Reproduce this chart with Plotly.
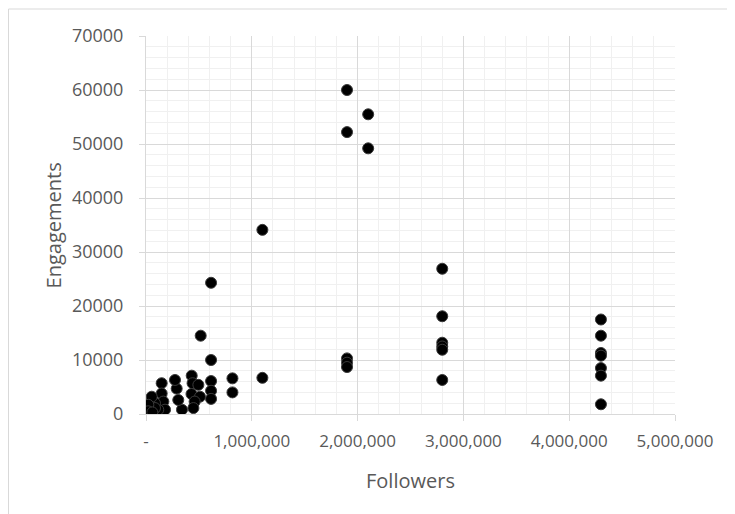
import plotly.graph_objects as go

followers = [
    1900000, 1900000, 2100000, 2100000,
    1100000, 1100000,
    1900000, 1900000, 1900000,
    2800000, 2800000, 2800000, 2800000, 2800000, 2800000,
    4300000, 4300000, 4300000, 4300000, 4300000, 4300000, 4300000,
    615000, 615000, 615000, 615000, 615000,
    817000, 817000,
    517000,
    432000, 440000, 430000, 495000, 510000, 460000, 448000,
    340000, 305000, 290000, 274000,
    148000, 148000, 164000, 180000, 116000, 85000, 85000,
    54000, 38000, 22000, 7000, 0, 20000, 60000,
]
engagements = [
    60000, 52200, 55500, 49200,
    34100, 6700,
    10300, 9500, 8700,
    26900, 18100, 13200, 12500, 11900, 6300,
    17500, 14500, 11300, 10800, 8500, 7100, 1800,
    24300, 10000, 6100, 4300, 2800,
    6600, 4000,
    14500,
    7100, 5700, 3700, 5400, 3200, 2300, 1100,
    800, 2600, 4700, 6300,
    5700, 3800, 2300, 800, 800, 2000, 1100,
    3200, 450, 1700, 150, 0, 500, 300,
]

x_tickvals = [0, 1000000, 2000000, 3000000, 4000000, 5000000]
x_ticktext = ["-", "1,000,000", "2,000,000", "3,000,000", "4,000,000", "5,000,000"]
y_tickvals = [0, 10000, 20000, 30000, 40000, 50000, 60000, 70000]
y_ticktext = ["0", "10000", "20000", "30000", "40000", "50000", "60000", "70000"]

FONT = "Open Sans"
TXT = "#595959"
MAJ = "#d9d9d9"
MIN = "#f0f0f0"

fig = go.Figure(go.Scatter(
    x=followers, y=engagements, mode="markers",
    marker=dict(size=11, color="#000000", line=dict(color="#3a3a3a", width=1)),
    hoverinfo="x+y",
))

fig.update_layout(
    width=735, height=514,
    margin=dict(l=138, r=68, t=28, b=108),
    paper_bgcolor="white", plot_bgcolor="white",
    showlegend=False,
    font=dict(family=FONT, size=17, color=TXT),
    xaxis=dict(
        range=[0, 5000000], tickvals=x_tickvals, ticktext=x_ticktext,
        showgrid=True, gridcolor=MAJ, gridwidth=1,
        minor=dict(dtick=200000, showgrid=True, gridcolor=MIN, gridwidth=1),
        showline=True, linecolor=MAJ, linewidth=1,
        ticks="outside", ticklen=6, tickcolor=MAJ,
        zeroline=False, automargin=False,
        ticklabelstandoff=6,
    ),
    yaxis=dict(
        range=[0, 70000], tickvals=y_tickvals, ticktext=y_ticktext,
        showgrid=True, gridcolor=MAJ, gridwidth=1,
        minor=dict(dtick=2000, showgrid=True, gridcolor=MIN, gridwidth=1),
        showline=True, linecolor=MAJ, linewidth=1,
        ticks="outside", ticklen=6, tickcolor=MAJ,
        zeroline=False, automargin=False,
        ticklabelstandoff=12,
        tickfont=dict(size=18),
    ),
    annotations=[
        dict(text="Followers", xref="paper", yref="paper", x=0.5, y=-0.177,
             xanchor="center", yanchor="middle", showarrow=False,
             font=dict(size=20, color=TXT)),
        dict(text="Engagements", xref="paper", yref="paper", x=-0.175, y=0.5,
             xanchor="center", yanchor="middle", textangle=-90, showarrow=False,
             font=dict(size=20, color=TXT)),
    ],
    shapes=[dict(
        type="rect", xref="paper", yref="paper",
        x0=-0.2599, x1=1.3, y0=-0.5, y1=1.0714,
        line=dict(color="#d9d9d9", width=1), fillcolor="rgba(0,0,0,0)",
        layer="below",
    )],
)

fig.write_html("out.html")
